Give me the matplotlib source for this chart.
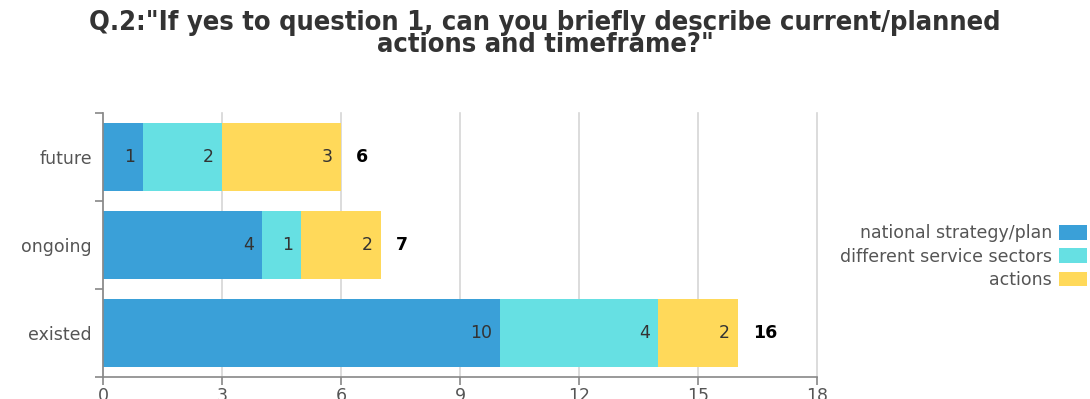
import matplotlib.pyplot as plt
import numpy as np

categories = ['existed', 'ongoing', 'future']
series = ['national strategy/plan', 'different service sectors', 'actions']
national = [10, 4, 1]
sectors = [4, 1, 2]
actions = [2, 2, 3]
colors = ['#3aa0d8', '#66e0e3', '#ffd95a']
xticks = [0, 3, 6, 9, 12, 15, 18]

fig = plt.figure(figsize=(10.9, 3.99), dpi=100)
ax = fig.add_axes([0.0945, 0.055, 0.655, 0.662])

y = np.arange(len(categories))
left = np.zeros(len(categories))
for name, vals, c in zip(series, [national, sectors, actions], colors):
    bars = ax.barh(y, vals, left=left, height=0.78, color=c, label=name, zorder=2)
    for b, v in zip(bars, vals):
        ax.text(b.get_x() + b.get_width() - 0.2, b.get_y() + b.get_height() / 2, str(v),
                ha='right', va='center', fontsize=12.5, color='#333333', zorder=3)
    left = left + np.array(vals)

for yi, tot in zip(y, left):
    ax.text(tot + 0.38, yi, str(int(tot)), ha='left', va='center', fontsize=12.5,
            fontweight='bold', color='black')

ax.set_xlim(0, 18)
ax.set_ylim(-0.5, 2.5)
ax.set_xticks(xticks)
ax.set_yticks(y)
ax.set_yticklabels(categories)
ax.set_yticks([-0.5, 0.5, 1.5, 2.5], minor=True)
ax.tick_params(axis='y', which='major', length=0, labelsize=12.5, labelcolor='#555555', pad=8)
ax.tick_params(axis='y', which='minor', length=6, color='#888888', width=1.2)
ax.tick_params(axis='x', length=6, color='#888888', width=1.2, labelsize=12.5, labelcolor='#555555', pad=1)
ax.grid(axis='x', color='#d6d6d6', linewidth=1.2, zorder=0)
for gl in ax.get_xgridlines():
    gl.set_clip_on(False)
for s in ['top', 'right']:
    ax.spines[s].set_visible(False)
for s in ['left', 'bottom']:
    ax.spines[s].set_color('#888888')
    ax.spines[s].set_linewidth(1.2)

handles, labels = ax.get_legend_handles_labels()
fig.legend(handles, labels, loc='center right', bbox_to_anchor=(0.997, 0.357),
           frameon=False, markerfirst=False, fontsize=12.5, labelcolor='#555555',
           handlelength=1.6, handleheight=0.9, handletextpad=0.4, labelspacing=0.3,
           borderaxespad=0, borderpad=0)

fig.text(0.5, 0.915, 'Q.2:"If yes to question 1, can you briefly describe current/planned\nactions and timeframe?"',
         ha='center', va='center', fontsize=19.5, fontweight='bold', fontstretch='condensed',
         color='#333333', linespacing=0.82)

fig.savefig('out.png', dpi=100)
